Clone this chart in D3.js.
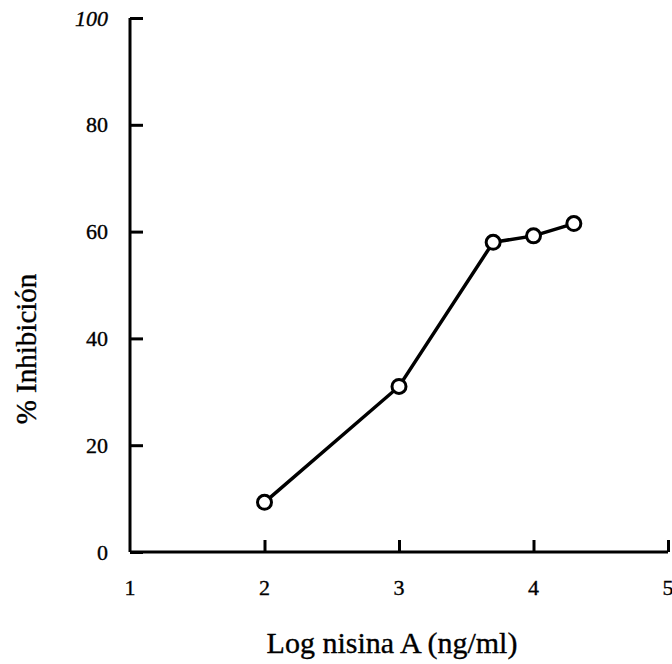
<!DOCTYPE html>
<html>
<head>
<meta charset="utf-8">
<script src="https://cdn.jsdelivr.net/npm/d3@7"></script>
<style>
  body { margin: 0; background: #fff; }
  text { font-family: "Liberation Serif", "Times New Roman", serif; fill: #000; stroke: #000; stroke-width: 0.35px; }
</style>
</head>
<body>
<div id="chart"></div>
<script>
// data
const logDose = [2, 3, 3.7, 4, 4.3];
const inhibition = [9.3, 31, 58, 59.2, 61.5];
const xTicks = [1, 2, 3, 4, 5];
const yTicks = [0, 20, 40, 60, 80, 100];

const width = 672, height = 664;
const svg = d3.select("#chart").append("svg")
    .attr("width", width)
    .attr("height", height);

const x = d3.scaleLinear().domain([1, 5]).range([130, 668]);
const y = d3.scaleLinear().domain([0, 100]).range([552, 18]);

// y axis, ticks point inward
const yAxis = svg.append("g")
    .attr("transform", "translate(" + x(1) + ",0)")
    .call(d3.axisRight(y).tickValues(yTicks).tickSize(13).tickFormat(""));
yAxis.select(".domain").attr("d", "M0," + y(100) + "V" + y(0)).attr("stroke-width", 3);
yAxis.selectAll(".tick line").attr("stroke-width", 3);

svg.selectAll(".ylab")
    .data(yTicks).enter().append("text")
    .attr("class", "ylab")
    .attr("x", 108)
    .attr("y", d => y(d) + 7.5)
    .attr("text-anchor", "end")
    .style("font-size", "22px")
    .style("font-style", d => d === 100 ? "italic" : "normal")
    .text(d => d);

// x axis, ticks upward
const xAxis = svg.append("g")
    .attr("transform", "translate(0," + y(0) + ")")
    .call(d3.axisTop(x).tickValues(xTicks).tickSize(12).tickFormat(""));
xAxis.select(".domain").attr("d", "M" + x(1) + ",0H" + x(5)).attr("stroke-width", 3);
xAxis.selectAll(".tick line").attr("stroke-width", 3);
xAxis.selectAll(".tick").filter(d => d === 1).select("line").remove();

svg.selectAll(".xlab")
    .data(xTicks).enter().append("text")
    .attr("class", "xlab")
    .attr("x", d => x(d))
    .attr("y", 595)
    .attr("text-anchor", "middle")
    .style("font-size", "22px")
    .text(d => d);

// titles
svg.append("text")
    .attr("x", 392)
    .attr("y", 653)
    .attr("text-anchor", "middle")
    .style("font-size", "30px")
    .text("Log nisina A (ng/ml)");

svg.append("text")
    .attr("transform", "translate(36,349) rotate(-90)")
    .attr("text-anchor", "middle")
    .style("font-size", "29px")
    .text("% Inhibición");

// line + markers
const pts = logDose.map((d, i) => [d, inhibition[i]]);
svg.append("path")
    .datum(pts)
    .attr("fill", "none")
    .attr("stroke", "#000")
    .attr("stroke-width", 3.5)
    .attr("d", d3.line().x(d => x(d[0])).y(d => y(d[1])));

svg.selectAll(".pt")
    .data(pts).enter().append("circle")
    .attr("class", "pt")
    .attr("cx", d => x(d[0]))
    .attr("cy", d => y(d[1]))
    .attr("r", 7)
    .attr("fill", "#fff")
    .attr("stroke", "#000")
    .attr("stroke-width", 3);
</script>
</body>
</html>
